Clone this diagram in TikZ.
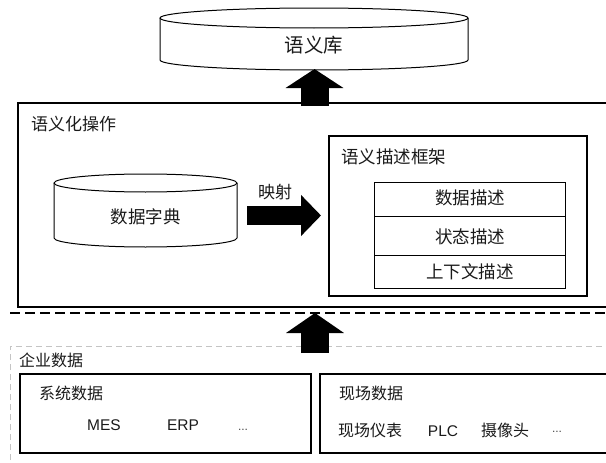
\documentclass[tikz,border=0pt]{standalone}
\usepackage{fontspec}
\setmainfont{Liberation Sans}
\newfontfamily\cjk{Noto Sans CJK SC}
\usetikzlibrary{arrows.meta}
\definecolor{txt}{HTML}{1A1A1A}
\definecolor{lightdash}{HTML}{C4C4C4}
\tikzset{
  boxline/.style={draw=black, line width=1.2pt},
  cyl/.style={draw=black, line width=1pt},
  lab/.style={inner sep=0pt, text=txt, font=\cjk\fontsize{16}{16}\selectfont},
  labw/.style={lab, anchor=west},
  lat/.style={inner sep=0pt, text=txt, font=\fontsize{15.5}{16}\selectfont},
  dots/.style={inner sep=0pt, text=txt!80, font=\fontsize{12}{12}\selectfont},
}
\begin{document}
\begin{tikzpicture}[x=1pt, y=-1pt]
\useasboundingbox (0,0) rectangle (606,463);

% ---- top cylinder: semantic library
\draw[cyl] (160,18) -- (160,60) arc[start angle=180, end angle=0, x radius=154, y radius=10] -- (468,18);
\draw[cyl, fill=white] (314,18) ellipse[x radius=154, y radius=10];
\node[lab, font=\cjk\fontsize{19.5}{20}\selectfont] (lib) at (314,45) {语义库};
\coordinate (libbot) at (314.5,69);

% ---- main box
\draw[boxline] (620,103) -- (18,103) -- (18,307) -- (620,307);
\node[labw, font=\cjk\fontsize{17}{17}\selectfont] (semop) at (31,124) {语义化操作};
\coordinate (maintop) at (314.5,106);

% ---- data dictionary cylinder
\draw[cyl] (54,183) -- (54,238) arc[start angle=180, end angle=0, x radius=91.5, y radius=9] -- (237,183);
\draw[cyl, fill=white] (145.5,183) ellipse[x radius=91.5, y radius=9];
\node[lab, font=\cjk\fontsize{17.5}{18}\selectfont] (dict) at (145.5,217) {数据字典};

% ---- mapping arrow
\coordinate (mapstart) at (247,215.5);
\coordinate (mapend) at (321,215.5);
\draw[line width=19pt, -{Triangle[length=20pt, width=40pt]}] (mapstart) -- (mapend);
\node[lab, font=\cjk\fontsize{17}{17}\selectfont] (map) at (275,192) {映射};

% ---- semantic description framework
\draw[boxline] (329,136) rectangle (587,296);
\node[labw, font=\cjk\fontsize{17.5}{18}\selectfont] (frame) at (341,157) {语义描述框架};
\node[boxline, minimum width=191pt, minimum height=34pt, inner sep=0pt, anchor=north west] (d1) at (374,182) {};
\node[boxline, minimum width=191pt, minimum height=39pt, inner sep=0pt, anchor=north west] (d2) at (374,216) {};
\node[boxline, minimum width=191pt, minimum height=33pt, inner sep=0pt, anchor=north west] (d3) at (374,255) {};
\node[lab, font=\cjk\fontsize{17.5}{18}\selectfont] at (470,198) {数据描述};
\node[lab, font=\cjk\fontsize{17.5}{18}\selectfont] at (470,237) {状态描述};
\node[lab, font=\cjk\fontsize{17.5}{18}\selectfont] at (470,272) {上下文描述};

% ---- top arrow
\draw[line width=28pt, -{Triangle[length=19pt, width=57pt]}] (maintop) -- (libbot);

% ---- separators
\draw[black, line width=2.2pt, dash pattern=on 10pt off 5pt] (10,313) -- (620,313);
\draw[lightdash, line width=1pt, dash pattern=on 6pt off 4pt] (10,470) -- (10,346) -- (620,346);

% ---- bottom arrow
\coordinate (entop) at (315,353);
\coordinate (sep) at (315,313);
\draw[line width=28pt, -{Triangle[length=20pt, width=57pt]}] (entop) -- (sep);

% ---- enterprise data
\node[labw, font=\cjk\fontsize{16}{16}\selectfont] (ent) at (19,360) {企业数据};
\draw[boxline] (20,374) rectangle (311,453);
\node[labw, font=\cjk\fontsize{16}{16}\selectfont] (sys) at (39,393) {系统数据};
\node[lat] (mes) at (104,425) {MES};
\node[lat] (erp) at (183,425) {ERP};
\node[dots] (d4) at (243,430) {...};

\draw[boxline] (620,374) -- (320,374) -- (320,453) -- (620,453);
\node[labw, font=\cjk\fontsize{16}{16}\selectfont] (field) at (339,393) {现场数据};
\node[lab, font=\cjk\fontsize{16}{16}\selectfont] (inst) at (370,430) {现场仪表};
\node[lat] (plc) at (443,431) {PLC};
\node[lab, font=\cjk\fontsize{16}{16}\selectfont] (cam) at (505,430) {摄像头};
\node[dots] (d5) at (557,432) {...};
\end{tikzpicture}
\end{document}
